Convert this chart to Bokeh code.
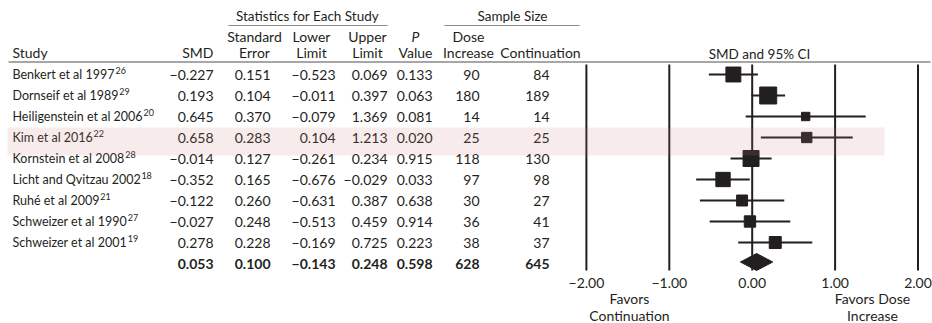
import glob, os, struct
from bokeh.plotting import figure
from bokeh.models import Range1d, ColumnDataSource
from bokeh.core.properties import value
from bokeh.embed import file_html
from bokeh.resources import INLINE

# ---------------- data ----------------
studies = ["Benkert et al 1997", "Dornseif et al 1989", "Heiligenstein et al 2006",
           "Kim et al 2016", "Kornstein et al 2008", "Licht and Qvitzau 2002",
           "Ruhé et al 2009", "Schweizer et al 1990", "Schweizer et al 2001"]
refs = ["26", "29", "20", "22", "28", "18", "21", "27", "19"]
smd = [-0.227, 0.193, 0.645, 0.658, -0.014, -0.352, -0.122, -0.027, 0.278]
se = [0.151, 0.104, 0.370, 0.283, 0.127, 0.165, 0.260, 0.248, 0.228]
lower = [-0.523, -0.011, -0.079, 0.104, -0.261, -0.676, -0.631, -0.513, -0.169]
upper = [0.069, 0.397, 1.369, 1.213, 0.234, -0.029, 0.387, 0.459, 0.725]
pval = [0.133, 0.063, 0.081, 0.020, 0.915, 0.033, 0.638, 0.914, 0.223]
n_dose = [90, 180, 14, 25, 118, 97, 30, 36, 38]
n_cont = [84, 189, 14, 25, 130, 98, 27, 41, 37]

sum_smd, sum_se, sum_lower, sum_upper, sum_p = 0.053, 0.100, -0.143, 0.248, 0.598
sum_dose, sum_cont = 628, 645

ticks = [-2.0, -1.0, 0.0, 1.0, 2.0]
tick_labels = ["−2.00", "−1.00", "0.00", "1.00", "2.00"]
highlight_row = 3

# ---------------- layout constants ----------------
W, H = 932, 323
ZERO_PX, UNIT_PX = 751.7, 82.9
ROW0_PX, ROW_H = 74.0, 21.0
FONT_NAME = "Lato"
FONT = value(FONT_NAME)
FSZ = 14
FS = f"{FSZ}px"
NAME_SZ = 12.5
SUP_SZ = 9
TXT = "#231f20"
RULE = "#8a8a8a"


# ---- text width measurement from the installed font file (for superscripts) ----
def _find_font():
    for root in ["/usr/share/fonts", "/usr/local/share/fonts", os.path.expanduser("~/.fonts"),
                 os.path.expanduser("~/.local/share/fonts")]:
        for f in glob.glob(os.path.join(root, "**", "*"), recursive=True):
            b = os.path.basename(f).lower()
            if b.startswith("lato-regular") and b.endswith((".ttf", ".otf")):
                return f
    return None


def _make_measure():
    path = _find_font()
    if not path:
        return lambda s, size: 0.5 * size * len(s)
    try:
        d = open(path, "rb").read()
        n = struct.unpack_from(">H", d, 4)[0]
        tb = {}
        for i in range(n):
            tag, _, off, _ln = struct.unpack_from(">4sIII", d, 12 + 16 * i)
            tb[tag] = off
        upem = struct.unpack_from(">H", d, tb[b"head"] + 18)[0]
        nhm = struct.unpack_from(">H", d, tb[b"hhea"] + 34)[0]
        adv = [struct.unpack_from(">H", d, tb[b"hmtx"] + 4 * i)[0] for i in range(nhm)]
        cm = tb[b"cmap"]
        nsub = struct.unpack_from(">H", d, cm + 2)[0]
        sub = None
        for i in range(nsub):
            pid, eid, off = struct.unpack_from(">HHI", d, cm + 4 + 8 * i)
            if struct.unpack_from(">H", d, cm + off)[0] == 4 and (pid == 3 or pid == 0):
                sub = cm + off
                break
        segx2 = struct.unpack_from(">H", d, sub + 6)[0]
        ends = sub + 14
        starts = ends + segx2 + 2
        deltas = starts + segx2
        ros = deltas + segx2

        def gid(c):
            for s in range(segx2 // 2):
                e = struct.unpack_from(">H", d, ends + 2 * s)[0]
                if c <= e:
                    st = struct.unpack_from(">H", d, starts + 2 * s)[0]
                    if c < st:
                        return 0
                    dl = struct.unpack_from(">h", d, deltas + 2 * s)[0]
                    ro = struct.unpack_from(">H", d, ros + 2 * s)[0]
                    if ro == 0:
                        return (c + dl) & 0xFFFF
                    g = struct.unpack_from(">H", d, ros + 2 * s + ro + 2 * (c - st))[0]
                    return (g + dl) & 0xFFFF if g else 0
            return 0

        def measure(s, size):
            return sum(adv[min(gid(ord(ch)), nhm - 1)] for ch in s) * size / upem
        return measure
    except Exception:
        return lambda s, size: 0.5 * size * len(s)


measure = _make_measure()


def fmt(v):
    return f"{v:.3f}".replace("-", "−")


p = figure(width=W, height=H, output_backend="svg", toolbar_location=None,
           x_range=Range1d(0, W), y_range=Range1d(H, 0),
           x_axis_type=None, y_axis_type=None, min_border=0,
           outline_line_color=None, background_fill_color="white")
p.grid.visible = False
p.extra_x_ranges = {"smd": Range1d(-ZERO_PX / UNIT_PX, (W - ZERO_PX) / UNIT_PX)}
p.extra_y_ranges = {"row": Range1d((H - ROW0_PX) / ROW_H, -ROW0_PX / ROW_H)}

n = len(studies)
rows = list(range(n))
sum_row = n


def txt(x, y, t, align="right", bold=False, italic=False, yr="row", size=FS):
    style = "bold" if bold else ("italic" if italic else "normal")
    p.text(x=x, y=y, text=t, text_align=align, text_baseline="middle",
           text_font=FONT, text_font_size=size, text_color=TXT,
           text_font_style=style, y_range_name=yr)


# ---------------- headers ----------------
txt([307], [15], ["Statistics for Each Study"], align="center", yr="default", size="13.5px")
txt([512], [15], ["Sample Size"], align="center", yr="default", size="13.5px")
p.segment(x0=[228, 444], x1=[387, 579], y0=[25, 25], y1=[25, 25],
          line_color=RULE, line_width=1.2)
txt([12], [52], ["Study"], align="left", yr="default")
txt([213], [52], ["SMD"], yr="default")
txt([254, 311, 367, 468], [36, 36, 36, 36], ["Standard", "Lower", "Upper", "Dose"],
    align="center", yr="default")
txt([415], [36], ["P"], align="center", italic=True, yr="default")
txt([254, 311, 367, 415, 468, 540], [52] * 6,
    ["Error", "Limit", "Limit", "Value", "Increase", "Continuation"], align="center", yr="default")
txt([759], [53], ["SMD and 95% CI"], align="center", yr="default", size="13.5px")
p.segment(x0=[8], x1=[930], y0=[61.5], y1=[61.5], line_color=RULE, line_width=1.3)

# ---------------- table body ----------------
src = ColumnDataSource(dict(
    row=rows, study=studies, smd_t=[fmt(v) for v in smd], se_t=[fmt(v) for v in se],
    lo_t=[fmt(v) for v in lower], up_t=[fmt(v) for v in upper], p_t=[fmt(v) for v in pval],
    nd_t=[str(v) for v in n_dose], nc_t=[str(v) for v in n_cont]))
p.text(x=12, y="row", text="study", source=src, text_align="left", text_baseline="middle",
       text_font=FONT, text_font_size=f"{NAME_SZ}px", text_color=TXT, y_range_name="row")
for col, xpos in [("smd_t", 213), ("se_t", 270), ("lo_t", 335), ("up_t", 387), ("p_t", 432),
                  ("nd_t", 479), ("nc_t", 549)]:
    p.text(x=xpos, y="row", text=col, source=src, text_align="right", text_baseline="middle",
           text_font=FONT, text_font_size=FS, text_color=TXT, y_range_name="row")

# superscript reference numbers
sup_x = [12 + measure(s, NAME_SZ) + 0.5 for s in studies]
sup_y = [r - 4.5 / ROW_H for r in rows]
p.text(x=sup_x, y=sup_y, text=refs, text_align="left", text_baseline="middle",
       text_font=FONT, text_font_size=f"{SUP_SZ}px", text_color=TXT, y_range_name="row")

sum_vals = [fmt(sum_smd), fmt(sum_se), fmt(sum_lower), fmt(sum_upper), fmt(sum_p),
            str(sum_dose), str(sum_cont)]
txt([213, 270, 335, 387, 432, 479, 549], [sum_row] * 7, sum_vals, bold=True)

# ---------------- forest plot ----------------
y_top = (64 - ROW0_PX) / ROW_H
y_bot = (270 - ROW0_PX) / ROW_H
p.multi_line(xs=[[t, t] for t in ticks], ys=[[y_top, y_bot] for _ in ticks],
             x_range_name="smd", y_range_name="row", line_color=TXT, line_width=2)
p.multi_line(xs=[[lo, up] for lo, up in zip(lower, upper)], ys=[[r, r] for r in rows],
             x_range_name="smd", y_range_name="row", line_color=TXT, line_width=2)
sizes = [3.43 / (s * s + 0.03) ** 0.5 for s in se]
p.scatter(x=smd, y=rows, size=sizes, marker="square", x_range_name="smd", y_range_name="row",
          fill_color=TXT, line_color=TXT)
dh = 8.5 / ROW_H
yc = sum_row - 1.5 / ROW_H
p.patch(x=[sum_lower, sum_smd, sum_upper, sum_smd], y=[yc, yc - dh, yc, yc + dh],
        x_range_name="smd", y_range_name="row", fill_color=TXT, line_color=TXT)

# highlight band (drawn on top, translucent)
p.quad(left=[7], right=[884], top=[highlight_row - 10 / ROW_H], bottom=[highlight_row + 18 / ROW_H],
       y_range_name="row", fill_color="#ca7a7a", fill_alpha=0.15, line_color=None)

# tick labels and favors labels
p.text(x=list(ticks), y=[282] * len(ticks), text=tick_labels, x_range_name="smd",
       text_align="center", text_baseline="middle", text_font=FONT, text_font_size=FS,
       text_color=TXT)
txt([629, 629], [298, 315], ["Favors", "Continuation"], align="center", yr="default")
txt([872, 872], [298, 315], ["Favors Dose", "Increase"], align="center", yr="default")

open("out.html", "w").write(file_html(p, INLINE))
